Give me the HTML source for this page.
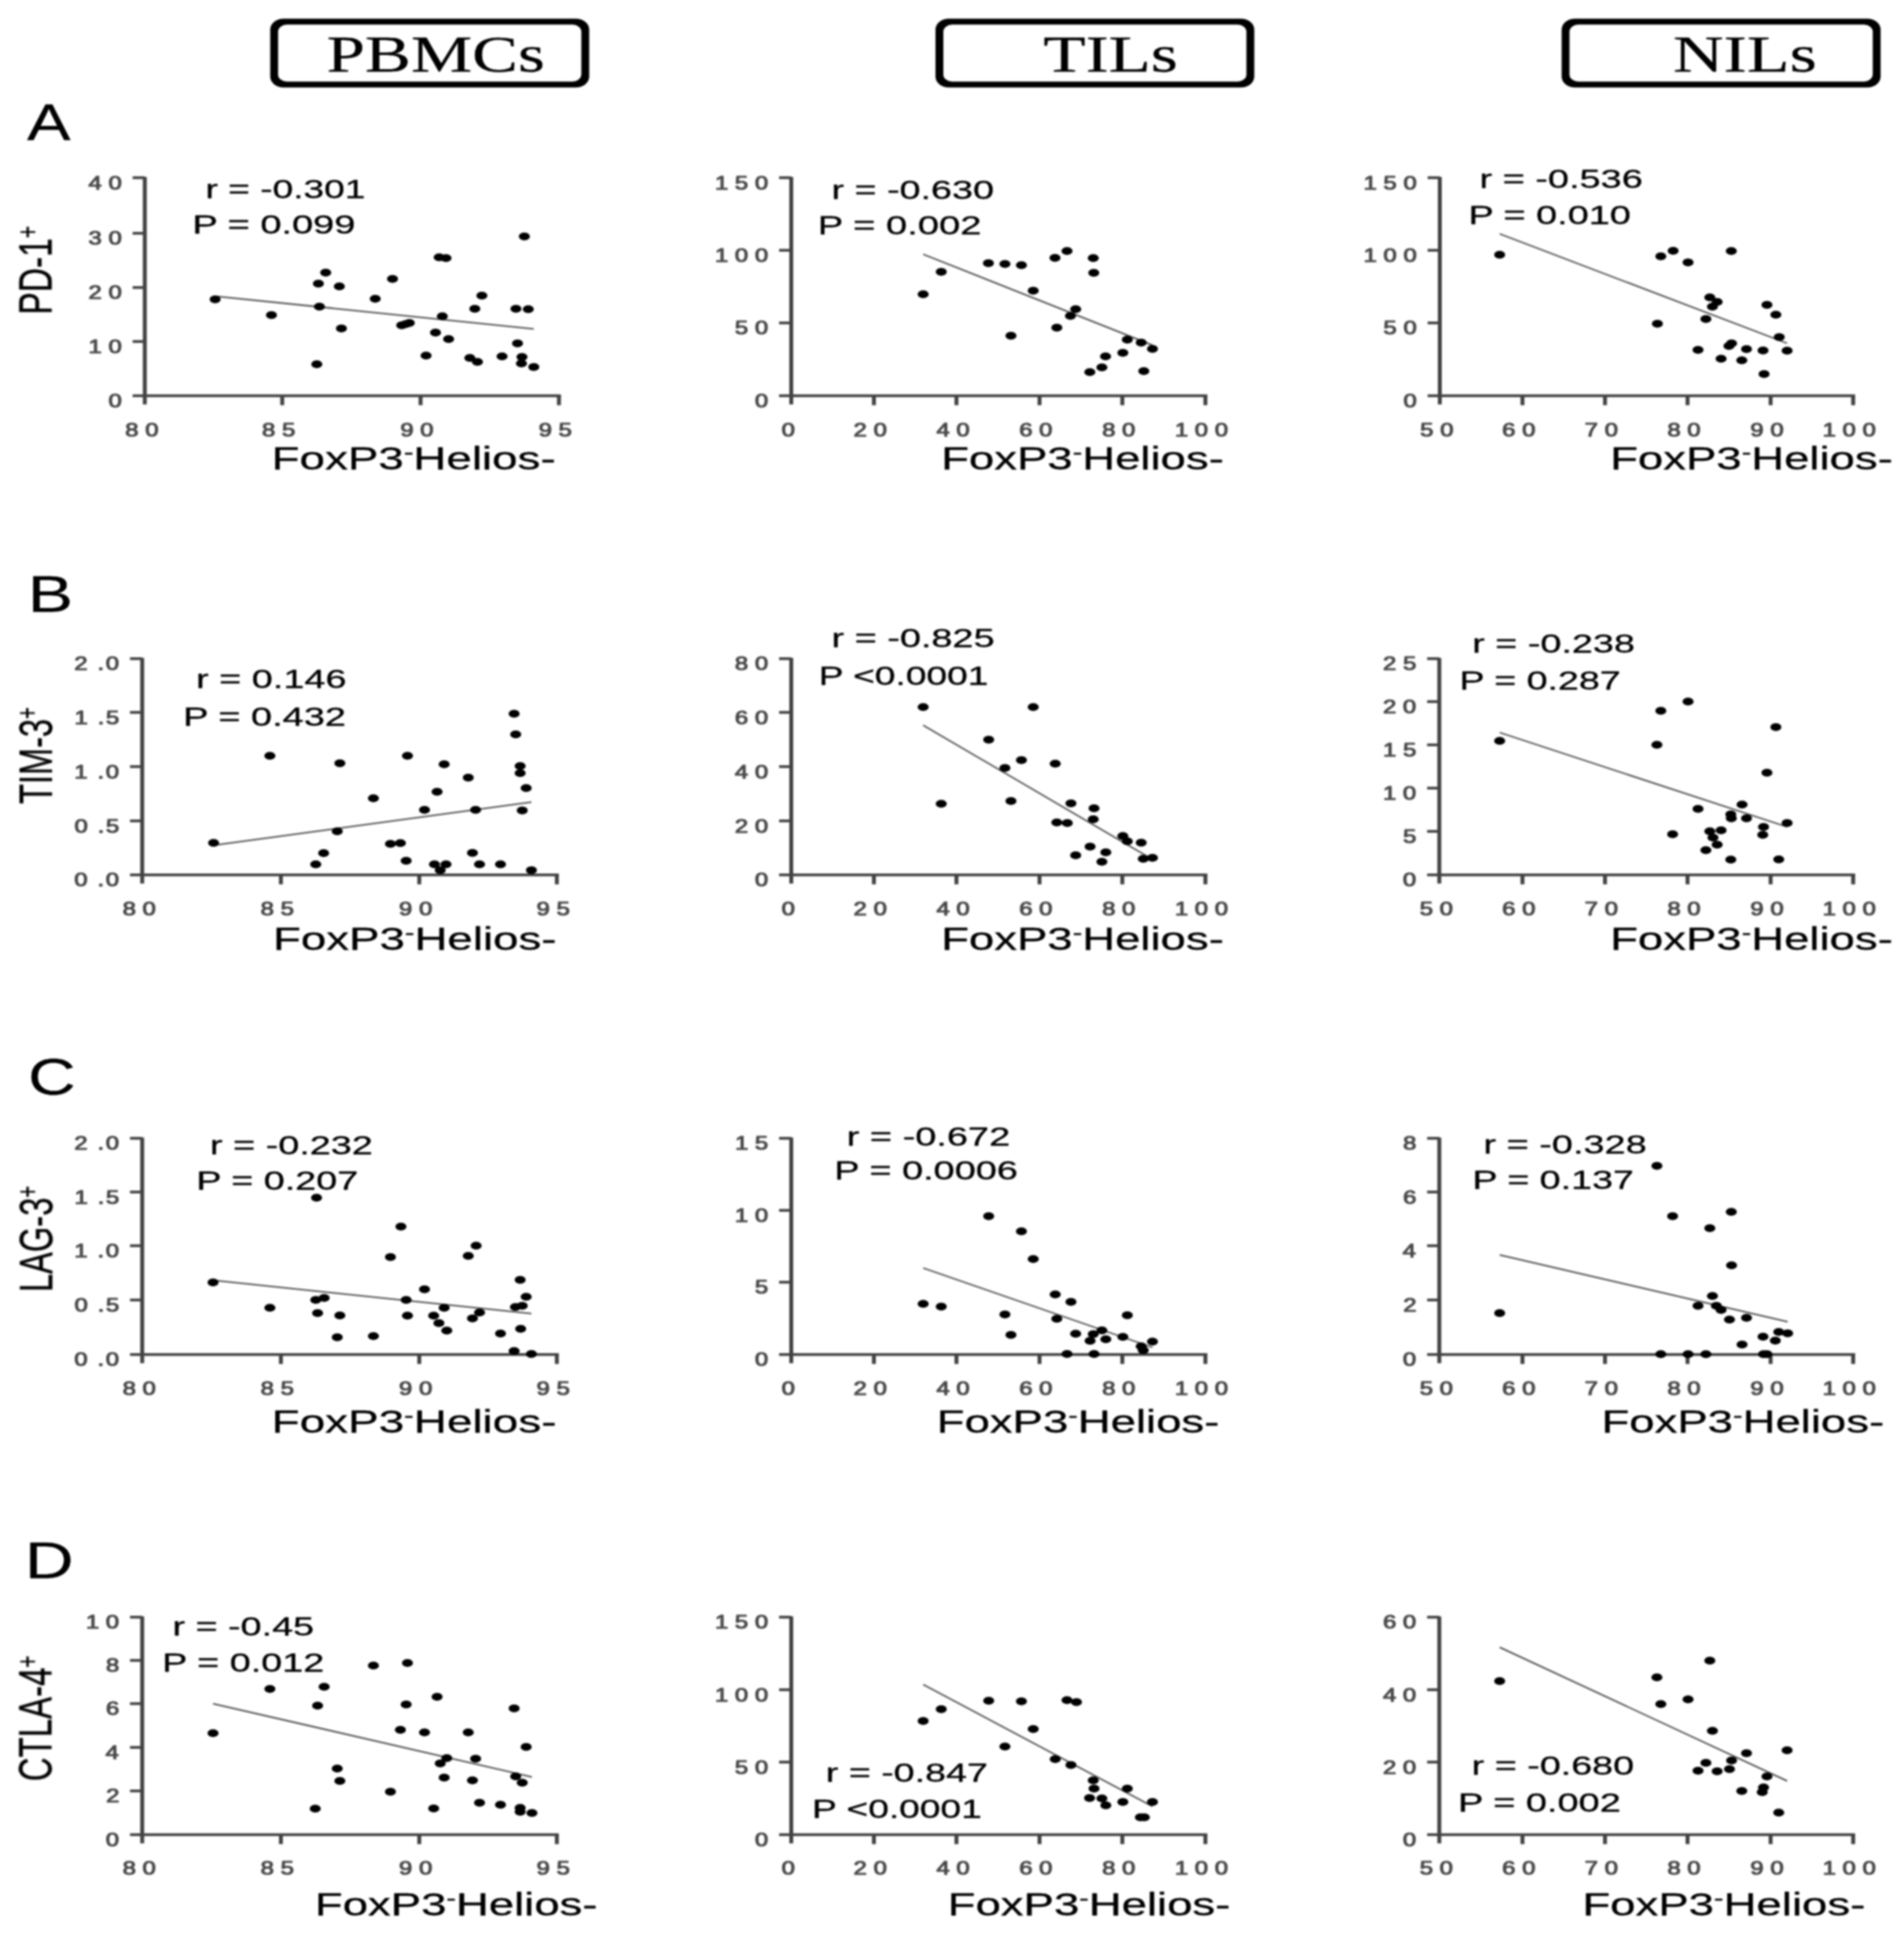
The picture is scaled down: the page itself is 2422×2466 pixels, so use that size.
<!DOCTYPE html>
<html lang="en"><head><meta charset="utf-8"><title>Figure</title>
<style>
html,body{margin:0;padding:0;background:#fff;}
body{width:2422px;height:2466px;overflow:hidden;}
svg{display:block;}
svg .all{filter:blur(1.2px);}
text{fill:#000;white-space:pre;stroke:#000;stroke-width:0.35px;stroke-linejoin:round;}
.s,.t{font-family:"Liberation Sans",Arial,Helvetica,sans-serif;}
.t{fill:#4a4a4a;stroke:#4a4a4a;stroke-width:1.15px;}
.h{stroke-width:0.3px;}
.h{font-family:"Liberation Serif","Times New Roman",serif;}
ellipse{fill:#000;}
</style></head><body>
<svg width="2422" height="2466" viewBox="0 0 2422 2466">
<g class="all">
<rect x="343.75" y="23.75" width="405.75" height="87.5" rx="17" ry="14" fill="#000"/>
<rect x="353.75" y="31.25" width="385.75" height="72.5" rx="11" ry="9" fill="#fff"/>
<text class="h" transform="translate(415.62,90.5) scale(1.3352,1)" font-size="65.6">PBMCs</text>
<rect x="1190" y="23.75" width="405.5" height="87.5" rx="17" ry="14" fill="#000"/>
<rect x="1200" y="31.25" width="385.5" height="72.5" rx="11" ry="9" fill="#fff"/>
<text class="h" transform="translate(1327.21,90.5) scale(1.3409,1)" font-size="65.6">TILs</text>
<rect x="1986.5" y="23.75" width="405.75" height="87.5" rx="17" ry="14" fill="#000"/>
<rect x="1996.5" y="31.25" width="385.75" height="72.5" rx="11" ry="9" fill="#fff"/>
<text class="h" transform="translate(2128.33,90.5) scale(1.3557,1)" font-size="65.6">NILs</text>
<text class="s" transform="translate(34.49,178.3) scale(1.2648,1)" font-size="65.4">A</text>
<text class="s" transform="translate(35.17,778.3) scale(1.3209,1)" font-size="65.4">B</text>
<text class="s" transform="translate(35.81,1392) scale(1.2813,1)" font-size="65.4">C</text>
<text class="s" transform="translate(31.74,2007.1) scale(1.3084,1)" font-size="65.4">D</text>
<text class="s" transform="translate(65.8,396.6) rotate(-90) scale(1.0282,1.43) translate(-3.42,0)" font-size="41.5">PD-1<tspan font-size="26" dy="-13">+</tspan></text>
<text class="s" transform="translate(65.8,1021.5) rotate(-90) scale(0.9973,1.43) translate(-0.93,0)" font-size="41.5">TIM-3<tspan font-size="26" dy="-13">+</tspan></text>
<text class="s" transform="translate(66.2,1639.8) rotate(-90) scale(1.0005,1.43) translate(-3.42,0)" font-size="41.5">LAG-3<tspan font-size="26" dy="-13">+</tspan></text>
<text class="s" transform="translate(65.6,2263.3) rotate(-90) scale(1.0115,1.43) translate(-2.08,0)" font-size="41.5">CTLA-4<tspan font-size="26" dy="-13">+</tspan></text>
<g id="A1">
<rect x="181.7" y="225.05" width="5" height="289.28" fill="#424242"/>
<rect x="168.7" y="501.58" width="544.8" height="3.5" fill="#424242"/>
<rect x="168.7" y="224.25" width="15.5" height="3.5" fill="#424242"/>
<text class="t" transform="translate(112.48,240.6) scale(1.2700,1)" font-size="24">4 0</text>
<rect x="168.7" y="294.92" width="15.5" height="3.5" fill="#424242"/>
<text class="t" transform="translate(112.48,311.27) scale(1.2700,1)" font-size="24">3 0</text>
<rect x="168.7" y="363.92" width="15.5" height="3.5" fill="#424242"/>
<text class="t" transform="translate(112.48,380.27) scale(1.2700,1)" font-size="24">2 0</text>
<rect x="168.7" y="432.58" width="15.5" height="3.5" fill="#424242"/>
<text class="t" transform="translate(112.48,448.93) scale(1.2700,1)" font-size="24">1 0</text>
<text class="t" transform="translate(137.93,517.93) scale(1.2700,1)" font-size="24">0</text>
<text class="t" transform="translate(159.24,554.53) scale(1.2700,1)" font-size="24">8 0</text>
<rect x="356.5" y="503.33" width="5" height="12" fill="#424242"/>
<text class="t" transform="translate(333.28,554.53) scale(1.2700,1)" font-size="24">8 5</text>
<rect x="532.5" y="503.33" width="5" height="12" fill="#424242"/>
<text class="t" transform="translate(509.16,554.53) scale(1.2700,1)" font-size="24">9 0</text>
<rect x="708.5" y="503.33" width="5" height="12" fill="#424242"/>
<text class="t" transform="translate(685.2,554.53) scale(1.2700,1)" font-size="24">9 5</text>
<line x1="273.67" y1="376.67" x2="679" y2="418.33" stroke="#555" stroke-width="2"/>
<ellipse cx="273.67" cy="380.67" rx="7.0" ry="5.0"/>
<ellipse cx="345.33" cy="400.67" rx="7.0" ry="5.0"/>
<ellipse cx="405" cy="360.67" rx="7.0" ry="5.0"/>
<ellipse cx="414.33" cy="346.67" rx="7.0" ry="5.0"/>
<ellipse cx="406.33" cy="390" rx="7.0" ry="5.0"/>
<ellipse cx="431.67" cy="364.33" rx="7.0" ry="5.0"/>
<ellipse cx="434.33" cy="417.67" rx="7.0" ry="5.0"/>
<ellipse cx="403" cy="463.33" rx="7.0" ry="5.0"/>
<ellipse cx="477.33" cy="380" rx="7.0" ry="5.0"/>
<ellipse cx="499.33" cy="354.67" rx="7.0" ry="5.0"/>
<ellipse cx="511" cy="413.67" rx="7.0" ry="5.0"/>
<ellipse cx="516" cy="412.33" rx="7.0" ry="5.0"/>
<ellipse cx="520.67" cy="410.67" rx="7.0" ry="5.0"/>
<ellipse cx="542" cy="452.33" rx="7.0" ry="5.0"/>
<ellipse cx="554" cy="423" rx="7.0" ry="5.0"/>
<ellipse cx="558.67" cy="327.33" rx="7.0" ry="5.0"/>
<ellipse cx="567.33" cy="328.33" rx="7.0" ry="5.0"/>
<ellipse cx="562.67" cy="402.33" rx="7.0" ry="5.0"/>
<ellipse cx="570.67" cy="431.33" rx="7.0" ry="5.0"/>
<ellipse cx="597.67" cy="455.33" rx="7.0" ry="5.0"/>
<ellipse cx="607.33" cy="460.33" rx="7.0" ry="5.0"/>
<ellipse cx="604" cy="392.67" rx="7.0" ry="5.0"/>
<ellipse cx="613" cy="376" rx="7.0" ry="5.0"/>
<ellipse cx="638.67" cy="453.33" rx="7.0" ry="5.0"/>
<ellipse cx="656.33" cy="392.67" rx="7.0" ry="5.0"/>
<ellipse cx="672" cy="393.33" rx="7.0" ry="5.0"/>
<ellipse cx="658.33" cy="436.67" rx="7.0" ry="5.0"/>
<ellipse cx="667" cy="300.67" rx="7.0" ry="5.0"/>
<ellipse cx="664" cy="454" rx="7.0" ry="5.0"/>
<ellipse cx="663.33" cy="462.33" rx="7.0" ry="5.0"/>
<ellipse cx="679" cy="466.67" rx="7.0" ry="5.0"/>
<text class="s" transform="translate(261.48,251.67) scale(1.4309,1)" font-size="33">r = -0.301</text>
<text class="s" transform="translate(244.68,296.67) scale(1.4655,1)" font-size="33">P = 0.099</text>
<text class="s" transform="translate(345.53,596.67) scale(1.4085,1)" font-size="41.3">FoxP3<tspan font-size="26" dy="-13">-</tspan><tspan dy="13">Helios-</tspan></text>
</g>
<g id="A2">
<rect x="1004.03" y="225.05" width="5" height="289.28" fill="#424242"/>
<rect x="991.03" y="501.58" width="544.8" height="3.5" fill="#424242"/>
<rect x="991.03" y="224.25" width="15.5" height="3.5" fill="#424242"/>
<text class="t" transform="translate(909.43,240.6) scale(1.2700,1)" font-size="24">1 5 0</text>
<rect x="991.03" y="316.58" width="15.5" height="3.5" fill="#424242"/>
<text class="t" transform="translate(909.43,332.93) scale(1.2700,1)" font-size="24">1 0 0</text>
<rect x="991.03" y="408.92" width="15.5" height="3.5" fill="#424242"/>
<text class="t" transform="translate(934.81,425.27) scale(1.2700,1)" font-size="24">5 0</text>
<text class="t" transform="translate(960.26,517.93) scale(1.2700,1)" font-size="24">0</text>
<text class="t" transform="translate(994.34,554.53) scale(1.2700,1)" font-size="24">0</text>
<rect x="1109.17" y="503.33" width="5" height="12" fill="#424242"/>
<text class="t" transform="translate(1085.79,554.53) scale(1.2700,1)" font-size="24">2 0</text>
<rect x="1214.17" y="503.33" width="5" height="12" fill="#424242"/>
<text class="t" transform="translate(1191.21,554.53) scale(1.2700,1)" font-size="24">4 0</text>
<rect x="1319.83" y="503.33" width="5" height="12" fill="#424242"/>
<text class="t" transform="translate(1296.46,554.53) scale(1.2700,1)" font-size="24">6 0</text>
<rect x="1425.17" y="503.33" width="5" height="12" fill="#424242"/>
<text class="t" transform="translate(1401.91,554.53) scale(1.2700,1)" font-size="24">8 0</text>
<rect x="1530.83" y="503.33" width="5" height="12" fill="#424242"/>
<text class="t" transform="translate(1494.39,554.53) scale(1.2700,1)" font-size="24">1 0 0</text>
<line x1="1174.33" y1="323.33" x2="1466" y2="439" stroke="#555" stroke-width="2"/>
<ellipse cx="1174.33" cy="374.33" rx="7.0" ry="5.0"/>
<ellipse cx="1197.33" cy="345.67" rx="7.0" ry="5.0"/>
<ellipse cx="1257.33" cy="334.67" rx="7.0" ry="5.0"/>
<ellipse cx="1278.33" cy="335.67" rx="7.0" ry="5.0"/>
<ellipse cx="1299.33" cy="337.33" rx="7.0" ry="5.0"/>
<ellipse cx="1286" cy="427" rx="7.0" ry="5.0"/>
<ellipse cx="1314.33" cy="369.67" rx="7.0" ry="5.0"/>
<ellipse cx="1342" cy="328" rx="7.0" ry="5.0"/>
<ellipse cx="1357.33" cy="319.33" rx="7.0" ry="5.0"/>
<ellipse cx="1344.33" cy="416.67" rx="7.0" ry="5.0"/>
<ellipse cx="1361.67" cy="401.67" rx="7.0" ry="5.0"/>
<ellipse cx="1368.33" cy="393.33" rx="7.0" ry="5.0"/>
<ellipse cx="1390.67" cy="328.33" rx="7.0" ry="5.0"/>
<ellipse cx="1391.33" cy="347" rx="7.0" ry="5.0"/>
<ellipse cx="1386.33" cy="473.33" rx="7.0" ry="5.0"/>
<ellipse cx="1401.67" cy="467.33" rx="7.0" ry="5.0"/>
<ellipse cx="1406.33" cy="453.33" rx="7.0" ry="5.0"/>
<ellipse cx="1428.33" cy="448.67" rx="7.0" ry="5.0"/>
<ellipse cx="1434" cy="432" rx="7.0" ry="5.0"/>
<ellipse cx="1451.67" cy="435.67" rx="7.0" ry="5.0"/>
<ellipse cx="1466" cy="443.67" rx="7.0" ry="5.0"/>
<ellipse cx="1455" cy="472" rx="7.0" ry="5.0"/>
<text class="s" transform="translate(1057.76,253.33) scale(1.4539,1)" font-size="33">r = -0.630</text>
<text class="s" transform="translate(1040.33,298.33) scale(1.4697,1)" font-size="33">P = 0.002</text>
<text class="s" transform="translate(1197.22,596.67) scale(1.4019,1)" font-size="41.3">FoxP3<tspan font-size="26" dy="-13">-</tspan><tspan dy="13">Helios-</tspan></text>
</g>
<g id="A3">
<rect x="1829.03" y="225.05" width="5" height="289.28" fill="#424242"/>
<rect x="1816.03" y="501.58" width="543.8" height="3.5" fill="#424242"/>
<rect x="1816.03" y="224.25" width="15.5" height="3.5" fill="#424242"/>
<text class="t" transform="translate(1734.43,240.6) scale(1.2700,1)" font-size="24">1 5 0</text>
<rect x="1816.03" y="316.58" width="15.5" height="3.5" fill="#424242"/>
<text class="t" transform="translate(1734.43,332.93) scale(1.2700,1)" font-size="24">1 0 0</text>
<rect x="1816.03" y="408.92" width="15.5" height="3.5" fill="#424242"/>
<text class="t" transform="translate(1759.81,425.27) scale(1.2700,1)" font-size="24">5 0</text>
<text class="t" transform="translate(1785.26,517.93) scale(1.2700,1)" font-size="24">0</text>
<text class="t" transform="translate(1806.61,554.53) scale(1.2700,1)" font-size="24">5 0</text>
<rect x="1934.17" y="503.33" width="5" height="12" fill="#424242"/>
<text class="t" transform="translate(1910.79,554.53) scale(1.2700,1)" font-size="24">6 0</text>
<rect x="2039.17" y="503.33" width="5" height="12" fill="#424242"/>
<text class="t" transform="translate(2015.75,554.53) scale(1.2700,1)" font-size="24">7 0</text>
<rect x="2144.17" y="503.33" width="5" height="12" fill="#424242"/>
<text class="t" transform="translate(2120.91,554.53) scale(1.2700,1)" font-size="24">8 0</text>
<rect x="2249.83" y="503.33" width="5" height="12" fill="#424242"/>
<text class="t" transform="translate(2226.5,554.53) scale(1.2700,1)" font-size="24">9 0</text>
<rect x="2354.83" y="503.33" width="5" height="12" fill="#424242"/>
<text class="t" transform="translate(2318.39,554.53) scale(1.2700,1)" font-size="24">1 0 0</text>
<line x1="1907.67" y1="297.33" x2="2273.33" y2="436.67" stroke="#555" stroke-width="2"/>
<ellipse cx="1907.67" cy="324" rx="7.0" ry="5.0"/>
<ellipse cx="2112.67" cy="326" rx="7.0" ry="5.0"/>
<ellipse cx="2128.33" cy="319" rx="7.0" ry="5.0"/>
<ellipse cx="2147.33" cy="333.67" rx="7.0" ry="5.0"/>
<ellipse cx="2202.33" cy="319.33" rx="7.0" ry="5.0"/>
<ellipse cx="2108.33" cy="411.67" rx="7.0" ry="5.0"/>
<ellipse cx="2175" cy="378.33" rx="7.0" ry="5.0"/>
<ellipse cx="2184.33" cy="384" rx="7.0" ry="5.0"/>
<ellipse cx="2178.33" cy="390" rx="7.0" ry="5.0"/>
<ellipse cx="2170" cy="405.67" rx="7.0" ry="5.0"/>
<ellipse cx="2160" cy="445" rx="7.0" ry="5.0"/>
<ellipse cx="2189.33" cy="456.33" rx="7.0" ry="5.0"/>
<ellipse cx="2202.67" cy="436.67" rx="7.0" ry="5.0"/>
<ellipse cx="2199.33" cy="440" rx="7.0" ry="5.0"/>
<ellipse cx="2221.67" cy="444" rx="7.0" ry="5.0"/>
<ellipse cx="2215.67" cy="458.33" rx="7.0" ry="5.0"/>
<ellipse cx="2242.67" cy="445.67" rx="7.0" ry="5.0"/>
<ellipse cx="2244" cy="475.67" rx="7.0" ry="5.0"/>
<ellipse cx="2247.67" cy="387.67" rx="7.0" ry="5.0"/>
<ellipse cx="2259" cy="400.33" rx="7.0" ry="5.0"/>
<ellipse cx="2263.33" cy="428.67" rx="7.0" ry="5.0"/>
<ellipse cx="2273.33" cy="446" rx="7.0" ry="5.0"/>
<text class="s" transform="translate(1882.08,239.33) scale(1.4605,1)" font-size="33">r = -0.536</text>
<text class="s" transform="translate(1868.03,285) scale(1.4580,1)" font-size="33">P = 0.010</text>
<text class="s" transform="translate(2048.22,596.67) scale(1.4019,1)" font-size="41.3">FoxP3<tspan font-size="26" dy="-13">-</tspan><tspan dy="13">Helios-</tspan></text>
</g>
<g id="B1">
<rect x="178.37" y="836.72" width="5" height="286.95" fill="#424242"/>
<rect x="165.37" y="1110.92" width="545.47" height="3.5" fill="#424242"/>
<rect x="165.37" y="835.92" width="15.5" height="3.5" fill="#424242"/>
<text class="t" transform="translate(94.59,852.27) scale(1.2700,1)" font-size="24" letter-spacing="1.6">2 .0</text>
<rect x="165.37" y="904.25" width="15.5" height="3.5" fill="#424242"/>
<text class="t" transform="translate(94.66,920.6) scale(1.2700,1)" font-size="24" letter-spacing="1.6">1 .5</text>
<rect x="165.37" y="973.25" width="15.5" height="3.5" fill="#424242"/>
<text class="t" transform="translate(94.59,989.6) scale(1.2700,1)" font-size="24" letter-spacing="1.6">1 .0</text>
<rect x="165.37" y="1042.25" width="15.5" height="3.5" fill="#424242"/>
<text class="t" transform="translate(94.66,1058.6) scale(1.2700,1)" font-size="24" letter-spacing="1.6">0 .5</text>
<text class="t" transform="translate(94.59,1127.27) scale(1.2700,1)" font-size="24" letter-spacing="1.6">0 .0</text>
<text class="t" transform="translate(155.91,1163.53) scale(1.2700,1)" font-size="24">8 0</text>
<rect x="354.83" y="1112.67" width="5" height="12" fill="#424242"/>
<text class="t" transform="translate(331.61,1163.53) scale(1.2700,1)" font-size="24">8 5</text>
<rect x="530.83" y="1112.67" width="5" height="12" fill="#424242"/>
<text class="t" transform="translate(507.5,1163.53) scale(1.2700,1)" font-size="24">9 0</text>
<rect x="705.83" y="1112.67" width="5" height="12" fill="#424242"/>
<text class="t" transform="translate(682.54,1163.53) scale(1.2700,1)" font-size="24">9 5</text>
<line x1="271.67" y1="1075" x2="676" y2="1020" stroke="#555" stroke-width="2"/>
<ellipse cx="271.67" cy="1072" rx="7.0" ry="5.0"/>
<ellipse cx="343.33" cy="961.33" rx="7.0" ry="5.0"/>
<ellipse cx="401.67" cy="1099.33" rx="7.0" ry="5.0"/>
<ellipse cx="411.67" cy="1085" rx="7.0" ry="5.0"/>
<ellipse cx="429" cy="1057.33" rx="7.0" ry="5.0"/>
<ellipse cx="432.33" cy="970.67" rx="7.0" ry="5.0"/>
<ellipse cx="475" cy="1015.33" rx="7.0" ry="5.0"/>
<ellipse cx="496.67" cy="1073.33" rx="7.0" ry="5.0"/>
<ellipse cx="509.33" cy="1072.33" rx="7.0" ry="5.0"/>
<ellipse cx="518.33" cy="961.33" rx="7.0" ry="5.0"/>
<ellipse cx="516.67" cy="1094.67" rx="7.0" ry="5.0"/>
<ellipse cx="540" cy="1030" rx="7.0" ry="5.0"/>
<ellipse cx="556" cy="1007" rx="7.0" ry="5.0"/>
<ellipse cx="552.67" cy="1099.33" rx="7.0" ry="5.0"/>
<ellipse cx="560" cy="1106.67" rx="7.0" ry="5.0"/>
<ellipse cx="567.33" cy="1099.33" rx="7.0" ry="5.0"/>
<ellipse cx="565" cy="972" rx="7.0" ry="5.0"/>
<ellipse cx="595.67" cy="989" rx="7.0" ry="5.0"/>
<ellipse cx="601" cy="1084.67" rx="7.0" ry="5.0"/>
<ellipse cx="605" cy="1030" rx="7.0" ry="5.0"/>
<ellipse cx="610" cy="1099.33" rx="7.0" ry="5.0"/>
<ellipse cx="636.67" cy="1099.33" rx="7.0" ry="5.0"/>
<ellipse cx="654" cy="907.67" rx="7.0" ry="5.0"/>
<ellipse cx="656" cy="934" rx="7.0" ry="5.0"/>
<ellipse cx="661.67" cy="974.33" rx="7.0" ry="5.0"/>
<ellipse cx="661.67" cy="983.33" rx="7.0" ry="5.0"/>
<ellipse cx="669.33" cy="1002.33" rx="7.0" ry="5.0"/>
<ellipse cx="664.33" cy="1030.67" rx="7.0" ry="5.0"/>
<ellipse cx="676" cy="1106.67" rx="7.0" ry="5.0"/>
<text class="s" transform="translate(249.42,875) scale(1.4580,1)" font-size="33">r = 0.146</text>
<text class="s" transform="translate(233.02,922.67) scale(1.4624,1)" font-size="33">P = 0.432</text>
<text class="s" transform="translate(347.21,1208.33) scale(1.4059,1)" font-size="41.3">FoxP3<tspan font-size="26" dy="-13">-</tspan><tspan dy="13">Helios-</tspan></text>
</g>
<g id="B2">
<rect x="1004.03" y="836.72" width="5" height="286.95" fill="#424242"/>
<rect x="991.03" y="1110.92" width="544.8" height="3.5" fill="#424242"/>
<rect x="991.03" y="835.92" width="15.5" height="3.5" fill="#424242"/>
<text class="t" transform="translate(934.81,852.27) scale(1.2700,1)" font-size="24">8 0</text>
<rect x="991.03" y="904.25" width="15.5" height="3.5" fill="#424242"/>
<text class="t" transform="translate(934.81,920.6) scale(1.2700,1)" font-size="24">6 0</text>
<rect x="991.03" y="973.25" width="15.5" height="3.5" fill="#424242"/>
<text class="t" transform="translate(934.81,989.6) scale(1.2700,1)" font-size="24">4 0</text>
<rect x="991.03" y="1042.25" width="15.5" height="3.5" fill="#424242"/>
<text class="t" transform="translate(934.81,1058.6) scale(1.2700,1)" font-size="24">2 0</text>
<text class="t" transform="translate(960.26,1127.27) scale(1.2700,1)" font-size="24">0</text>
<text class="t" transform="translate(994.34,1163.53) scale(1.2700,1)" font-size="24">0</text>
<rect x="1109.17" y="1112.67" width="5" height="12" fill="#424242"/>
<text class="t" transform="translate(1085.79,1163.53) scale(1.2700,1)" font-size="24">2 0</text>
<rect x="1214.17" y="1112.67" width="5" height="12" fill="#424242"/>
<text class="t" transform="translate(1191.21,1163.53) scale(1.2700,1)" font-size="24">4 0</text>
<rect x="1319.83" y="1112.67" width="5" height="12" fill="#424242"/>
<text class="t" transform="translate(1296.46,1163.53) scale(1.2700,1)" font-size="24">6 0</text>
<rect x="1425.17" y="1112.67" width="5" height="12" fill="#424242"/>
<text class="t" transform="translate(1401.91,1163.53) scale(1.2700,1)" font-size="24">8 0</text>
<rect x="1530.83" y="1112.67" width="5" height="12" fill="#424242"/>
<text class="t" transform="translate(1494.39,1163.53) scale(1.2700,1)" font-size="24">1 0 0</text>
<line x1="1174.33" y1="922.33" x2="1466" y2="1093" stroke="#555" stroke-width="2"/>
<ellipse cx="1174.33" cy="899.33" rx="7.0" ry="5.0"/>
<ellipse cx="1197.33" cy="1022.33" rx="7.0" ry="5.0"/>
<ellipse cx="1257.67" cy="940.67" rx="7.0" ry="5.0"/>
<ellipse cx="1278.33" cy="976.67" rx="7.0" ry="5.0"/>
<ellipse cx="1286" cy="1018.67" rx="7.0" ry="5.0"/>
<ellipse cx="1299.33" cy="966.67" rx="7.0" ry="5.0"/>
<ellipse cx="1314.33" cy="899.33" rx="7.0" ry="5.0"/>
<ellipse cx="1342.33" cy="971.33" rx="7.0" ry="5.0"/>
<ellipse cx="1344.33" cy="1046" rx="7.0" ry="5.0"/>
<ellipse cx="1357.67" cy="1046.67" rx="7.0" ry="5.0"/>
<ellipse cx="1362.33" cy="1021.67" rx="7.0" ry="5.0"/>
<ellipse cx="1368.33" cy="1087.67" rx="7.0" ry="5.0"/>
<ellipse cx="1386.67" cy="1076.67" rx="7.0" ry="5.0"/>
<ellipse cx="1390.67" cy="1042" rx="7.0" ry="5.0"/>
<ellipse cx="1391.67" cy="1028" rx="7.0" ry="5.0"/>
<ellipse cx="1401.67" cy="1096" rx="7.0" ry="5.0"/>
<ellipse cx="1406.67" cy="1084" rx="7.0" ry="5.0"/>
<ellipse cx="1428.33" cy="1063.33" rx="7.0" ry="5.0"/>
<ellipse cx="1434" cy="1070" rx="7.0" ry="5.0"/>
<ellipse cx="1451.67" cy="1071.67" rx="7.0" ry="5.0"/>
<ellipse cx="1454.33" cy="1092.33" rx="7.0" ry="5.0"/>
<ellipse cx="1466" cy="1091" rx="7.0" ry="5.0"/>
<text class="s" transform="translate(1057.75,823.33) scale(1.4596,1)" font-size="33">r = -0.825</text>
<text class="s" transform="translate(1041.44,871) scale(1.4316,1)" font-size="33">P &lt;0.0001</text>
<text class="s" transform="translate(1197.22,1208.33) scale(1.4019,1)" font-size="41.3">FoxP3<tspan font-size="26" dy="-13">-</tspan><tspan dy="13">Helios-</tspan></text>
</g>
<g id="B3">
<rect x="1828.37" y="836.72" width="5" height="286.95" fill="#424242"/>
<rect x="1815.37" y="1110.92" width="544.47" height="3.5" fill="#424242"/>
<rect x="1815.37" y="835.92" width="15.5" height="3.5" fill="#424242"/>
<text class="t" transform="translate(1759.22,852.27) scale(1.2700,1)" font-size="24">2 5</text>
<rect x="1815.37" y="890.58" width="15.5" height="3.5" fill="#424242"/>
<text class="t" transform="translate(1759.14,906.93) scale(1.2700,1)" font-size="24">2 0</text>
<rect x="1815.37" y="945.58" width="15.5" height="3.5" fill="#424242"/>
<text class="t" transform="translate(1759.22,961.93) scale(1.2700,1)" font-size="24">1 5</text>
<rect x="1815.37" y="1000.58" width="15.5" height="3.5" fill="#424242"/>
<text class="t" transform="translate(1759.14,1016.93) scale(1.2700,1)" font-size="24">1 0</text>
<rect x="1815.37" y="1055.58" width="15.5" height="3.5" fill="#424242"/>
<text class="t" transform="translate(1784.67,1071.93) scale(1.2700,1)" font-size="24">5</text>
<text class="t" transform="translate(1784.59,1127.27) scale(1.2700,1)" font-size="24">0</text>
<text class="t" transform="translate(1805.94,1163.53) scale(1.2700,1)" font-size="24">5 0</text>
<rect x="1934.17" y="1112.67" width="5" height="12" fill="#424242"/>
<text class="t" transform="translate(1910.79,1163.53) scale(1.2700,1)" font-size="24">6 0</text>
<rect x="2039.17" y="1112.67" width="5" height="12" fill="#424242"/>
<text class="t" transform="translate(2015.75,1163.53) scale(1.2700,1)" font-size="24">7 0</text>
<rect x="2144.17" y="1112.67" width="5" height="12" fill="#424242"/>
<text class="t" transform="translate(2120.91,1163.53) scale(1.2700,1)" font-size="24">8 0</text>
<rect x="2249.83" y="1112.67" width="5" height="12" fill="#424242"/>
<text class="t" transform="translate(2226.5,1163.53) scale(1.2700,1)" font-size="24">9 0</text>
<rect x="2354.83" y="1112.67" width="5" height="12" fill="#424242"/>
<text class="t" transform="translate(2318.39,1163.53) scale(1.2700,1)" font-size="24">1 0 0</text>
<line x1="1907.67" y1="931.67" x2="2273.33" y2="1051.67" stroke="#555" stroke-width="2"/>
<ellipse cx="1907.67" cy="942.33" rx="7.0" ry="5.0"/>
<ellipse cx="2107.67" cy="947.33" rx="7.0" ry="5.0"/>
<ellipse cx="2112.67" cy="904" rx="7.0" ry="5.0"/>
<ellipse cx="2147.33" cy="892.33" rx="7.0" ry="5.0"/>
<ellipse cx="2127.67" cy="1061" rx="7.0" ry="5.0"/>
<ellipse cx="2160" cy="1028.67" rx="7.0" ry="5.0"/>
<ellipse cx="2170" cy="1081.33" rx="7.0" ry="5.0"/>
<ellipse cx="2175" cy="1057.33" rx="7.0" ry="5.0"/>
<ellipse cx="2179" cy="1065.33" rx="7.0" ry="5.0"/>
<ellipse cx="2184.33" cy="1074.33" rx="7.0" ry="5.0"/>
<ellipse cx="2189.33" cy="1056" rx="7.0" ry="5.0"/>
<ellipse cx="2201.67" cy="1035.67" rx="7.0" ry="5.0"/>
<ellipse cx="2202.33" cy="1040.67" rx="7.0" ry="5.0"/>
<ellipse cx="2201.67" cy="1093.33" rx="7.0" ry="5.0"/>
<ellipse cx="2216" cy="1023.33" rx="7.0" ry="5.0"/>
<ellipse cx="2221.67" cy="1040.67" rx="7.0" ry="5.0"/>
<ellipse cx="2243.33" cy="1051.67" rx="7.0" ry="5.0"/>
<ellipse cx="2242.33" cy="1061.67" rx="7.0" ry="5.0"/>
<ellipse cx="2247.67" cy="982.67" rx="7.0" ry="5.0"/>
<ellipse cx="2259" cy="924.67" rx="7.0" ry="5.0"/>
<ellipse cx="2262.67" cy="1093" rx="7.0" ry="5.0"/>
<ellipse cx="2273.33" cy="1046.67" rx="7.0" ry="5.0"/>
<text class="s" transform="translate(1872.76,830) scale(1.4557,1)" font-size="33">r = -0.238</text>
<text class="s" transform="translate(1856.39,876.67) scale(1.4502,1)" font-size="33">P = 0.287</text>
<text class="s" transform="translate(2048.22,1208.33) scale(1.4019,1)" font-size="41.3">FoxP3<tspan font-size="26" dy="-13">-</tspan><tspan dy="13">Helios-</tspan></text>
</g>
<g id="C1">
<rect x="178.37" y="1446.72" width="5" height="286.95" fill="#424242"/>
<rect x="165.37" y="1720.92" width="545.47" height="3.5" fill="#424242"/>
<rect x="165.37" y="1445.92" width="15.5" height="3.5" fill="#424242"/>
<text class="t" transform="translate(94.59,1462.27) scale(1.2700,1)" font-size="24" letter-spacing="1.6">2 .0</text>
<rect x="165.37" y="1514.25" width="15.5" height="3.5" fill="#424242"/>
<text class="t" transform="translate(94.66,1530.6) scale(1.2700,1)" font-size="24" letter-spacing="1.6">1 .5</text>
<rect x="165.37" y="1582.58" width="15.5" height="3.5" fill="#424242"/>
<text class="t" transform="translate(94.59,1598.93) scale(1.2700,1)" font-size="24" letter-spacing="1.6">1 .0</text>
<rect x="165.37" y="1651.58" width="15.5" height="3.5" fill="#424242"/>
<text class="t" transform="translate(94.66,1667.93) scale(1.2700,1)" font-size="24" letter-spacing="1.6">0 .5</text>
<text class="t" transform="translate(94.59,1737.27) scale(1.2700,1)" font-size="24" letter-spacing="1.6">0 .0</text>
<text class="t" transform="translate(155.91,1773.53) scale(1.2700,1)" font-size="24">8 0</text>
<rect x="354.83" y="1722.67" width="5" height="12" fill="#424242"/>
<text class="t" transform="translate(331.61,1773.53) scale(1.2700,1)" font-size="24">8 5</text>
<rect x="530.83" y="1722.67" width="5" height="12" fill="#424242"/>
<text class="t" transform="translate(507.5,1773.53) scale(1.2700,1)" font-size="24">9 0</text>
<rect x="705.83" y="1722.67" width="5" height="12" fill="#424242"/>
<text class="t" transform="translate(682.54,1773.53) scale(1.2700,1)" font-size="24">9 5</text>
<line x1="271" y1="1628.33" x2="676" y2="1670.67" stroke="#555" stroke-width="2"/>
<ellipse cx="271" cy="1631" rx="7.0" ry="5.0"/>
<ellipse cx="343.33" cy="1663.33" rx="7.0" ry="5.0"/>
<ellipse cx="402.67" cy="1523.33" rx="7.0" ry="5.0"/>
<ellipse cx="401.67" cy="1653.33" rx="7.0" ry="5.0"/>
<ellipse cx="412.33" cy="1650.67" rx="7.0" ry="5.0"/>
<ellipse cx="404" cy="1670" rx="7.0" ry="5.0"/>
<ellipse cx="432.33" cy="1673" rx="7.0" ry="5.0"/>
<ellipse cx="429" cy="1700.67" rx="7.0" ry="5.0"/>
<ellipse cx="475" cy="1699.33" rx="7.0" ry="5.0"/>
<ellipse cx="496.67" cy="1598.67" rx="7.0" ry="5.0"/>
<ellipse cx="510" cy="1560" rx="7.0" ry="5.0"/>
<ellipse cx="516.67" cy="1653.33" rx="7.0" ry="5.0"/>
<ellipse cx="518.33" cy="1673.33" rx="7.0" ry="5.0"/>
<ellipse cx="540" cy="1639.67" rx="7.0" ry="5.0"/>
<ellipse cx="551.67" cy="1673.33" rx="7.0" ry="5.0"/>
<ellipse cx="558.33" cy="1682.67" rx="7.0" ry="5.0"/>
<ellipse cx="565" cy="1663.33" rx="7.0" ry="5.0"/>
<ellipse cx="568.33" cy="1692.33" rx="7.0" ry="5.0"/>
<ellipse cx="595.67" cy="1597.33" rx="7.0" ry="5.0"/>
<ellipse cx="605.67" cy="1584.33" rx="7.0" ry="5.0"/>
<ellipse cx="601" cy="1676.67" rx="7.0" ry="5.0"/>
<ellipse cx="610" cy="1669.33" rx="7.0" ry="5.0"/>
<ellipse cx="636.67" cy="1696" rx="7.0" ry="5.0"/>
<ellipse cx="661.67" cy="1627.67" rx="7.0" ry="5.0"/>
<ellipse cx="669.33" cy="1649.33" rx="7.0" ry="5.0"/>
<ellipse cx="655.67" cy="1662.33" rx="7.0" ry="5.0"/>
<ellipse cx="664.33" cy="1660.67" rx="7.0" ry="5.0"/>
<ellipse cx="662.33" cy="1690" rx="7.0" ry="5.0"/>
<ellipse cx="654" cy="1718.33" rx="7.0" ry="5.0"/>
<ellipse cx="676" cy="1722" rx="7.0" ry="5.0"/>
<text class="s" transform="translate(267.09,1467.67) scale(1.4583,1)" font-size="33">r = -0.232</text>
<text class="s" transform="translate(249.71,1513.33) scale(1.4551,1)" font-size="33">P = 0.207</text>
<text class="s" transform="translate(345.52,1821.67) scale(1.4125,1)" font-size="41.3">FoxP3<tspan font-size="26" dy="-13">-</tspan><tspan dy="13">Helios-</tspan></text>
</g>
<g id="C2">
<rect x="1004.03" y="1446.72" width="5" height="286.95" fill="#424242"/>
<rect x="991.03" y="1720.92" width="544.8" height="3.5" fill="#424242"/>
<rect x="991.03" y="1445.92" width="15.5" height="3.5" fill="#424242"/>
<text class="t" transform="translate(934.89,1462.27) scale(1.2700,1)" font-size="24">1 5</text>
<rect x="991.03" y="1537.58" width="15.5" height="3.5" fill="#424242"/>
<text class="t" transform="translate(934.81,1553.93) scale(1.2700,1)" font-size="24">1 0</text>
<rect x="991.03" y="1628.92" width="15.5" height="3.5" fill="#424242"/>
<text class="t" transform="translate(960.34,1645.27) scale(1.2700,1)" font-size="24">5</text>
<text class="t" transform="translate(960.26,1737.27) scale(1.2700,1)" font-size="24">0</text>
<text class="t" transform="translate(994.34,1773.53) scale(1.2700,1)" font-size="24">0</text>
<rect x="1109.17" y="1722.67" width="5" height="12" fill="#424242"/>
<text class="t" transform="translate(1085.79,1773.53) scale(1.2700,1)" font-size="24">2 0</text>
<rect x="1214.17" y="1722.67" width="5" height="12" fill="#424242"/>
<text class="t" transform="translate(1191.21,1773.53) scale(1.2700,1)" font-size="24">4 0</text>
<rect x="1319.83" y="1722.67" width="5" height="12" fill="#424242"/>
<text class="t" transform="translate(1296.46,1773.53) scale(1.2700,1)" font-size="24">6 0</text>
<rect x="1425.17" y="1722.67" width="5" height="12" fill="#424242"/>
<text class="t" transform="translate(1401.91,1773.53) scale(1.2700,1)" font-size="24">8 0</text>
<rect x="1530.83" y="1722.67" width="5" height="12" fill="#424242"/>
<text class="t" transform="translate(1494.39,1773.53) scale(1.2700,1)" font-size="24">1 0 0</text>
<line x1="1174.33" y1="1612.67" x2="1466" y2="1713.67" stroke="#555" stroke-width="2"/>
<ellipse cx="1174.33" cy="1658.33" rx="7.0" ry="5.0"/>
<ellipse cx="1197.33" cy="1661.67" rx="7.0" ry="5.0"/>
<ellipse cx="1257.67" cy="1546.67" rx="7.0" ry="5.0"/>
<ellipse cx="1278.33" cy="1671.67" rx="7.0" ry="5.0"/>
<ellipse cx="1286" cy="1697.67" rx="7.0" ry="5.0"/>
<ellipse cx="1299.33" cy="1566" rx="7.0" ry="5.0"/>
<ellipse cx="1314.33" cy="1601.33" rx="7.0" ry="5.0"/>
<ellipse cx="1342.33" cy="1646.33" rx="7.0" ry="5.0"/>
<ellipse cx="1344.33" cy="1677.33" rx="7.0" ry="5.0"/>
<ellipse cx="1357.33" cy="1722" rx="7.0" ry="5.0"/>
<ellipse cx="1362.33" cy="1655.67" rx="7.0" ry="5.0"/>
<ellipse cx="1368.33" cy="1696.33" rx="7.0" ry="5.0"/>
<ellipse cx="1386.67" cy="1705.33" rx="7.0" ry="5.0"/>
<ellipse cx="1390.67" cy="1696.67" rx="7.0" ry="5.0"/>
<ellipse cx="1391.67" cy="1722" rx="7.0" ry="5.0"/>
<ellipse cx="1401.67" cy="1692" rx="7.0" ry="5.0"/>
<ellipse cx="1406.67" cy="1703.33" rx="7.0" ry="5.0"/>
<ellipse cx="1428.33" cy="1700.33" rx="7.0" ry="5.0"/>
<ellipse cx="1434" cy="1672.67" rx="7.0" ry="5.0"/>
<ellipse cx="1451.67" cy="1712.33" rx="7.0" ry="5.0"/>
<ellipse cx="1454.33" cy="1717.33" rx="7.0" ry="5.0"/>
<ellipse cx="1466" cy="1706.33" rx="7.0" ry="5.0"/>
<text class="s" transform="translate(1077.07,1456.67) scale(1.4631,1)" font-size="33">r = -0.672</text>
<text class="s" transform="translate(1061.36,1500) scale(1.4593,1)" font-size="33">P = 0.0006</text>
<text class="s" transform="translate(1191.56,1821.67) scale(1.4019,1)" font-size="41.3">FoxP3<tspan font-size="26" dy="-13">-</tspan><tspan dy="13">Helios-</tspan></text>
</g>
<g id="C3">
<rect x="1828.37" y="1446.72" width="5" height="286.95" fill="#424242"/>
<rect x="1815.37" y="1720.92" width="544.47" height="3.5" fill="#424242"/>
<rect x="1815.37" y="1445.92" width="15.5" height="3.5" fill="#424242"/>
<text class="t" transform="translate(1784.75,1462.27) scale(1.2700,1)" font-size="24">8</text>
<rect x="1815.37" y="1514.25" width="15.5" height="3.5" fill="#424242"/>
<text class="t" transform="translate(1784.75,1530.6) scale(1.2700,1)" font-size="24">6</text>
<rect x="1815.37" y="1582.58" width="15.5" height="3.5" fill="#424242"/>
<text class="t" transform="translate(1784.29,1598.93) scale(1.2700,1)" font-size="24">4</text>
<rect x="1815.37" y="1651.58" width="15.5" height="3.5" fill="#424242"/>
<text class="t" transform="translate(1784.97,1667.93) scale(1.2700,1)" font-size="24">2</text>
<text class="t" transform="translate(1784.59,1737.27) scale(1.2700,1)" font-size="24">0</text>
<text class="t" transform="translate(1805.94,1773.53) scale(1.2700,1)" font-size="24">5 0</text>
<rect x="1934.17" y="1722.67" width="5" height="12" fill="#424242"/>
<text class="t" transform="translate(1910.79,1773.53) scale(1.2700,1)" font-size="24">6 0</text>
<rect x="2039.17" y="1722.67" width="5" height="12" fill="#424242"/>
<text class="t" transform="translate(2015.75,1773.53) scale(1.2700,1)" font-size="24">7 0</text>
<rect x="2144.17" y="1722.67" width="5" height="12" fill="#424242"/>
<text class="t" transform="translate(2120.91,1773.53) scale(1.2700,1)" font-size="24">8 0</text>
<rect x="2249.83" y="1722.67" width="5" height="12" fill="#424242"/>
<text class="t" transform="translate(2226.5,1773.53) scale(1.2700,1)" font-size="24">9 0</text>
<rect x="2354.83" y="1722.67" width="5" height="12" fill="#424242"/>
<text class="t" transform="translate(2318.39,1773.53) scale(1.2700,1)" font-size="24">1 0 0</text>
<line x1="1907.67" y1="1596" x2="2274" y2="1681" stroke="#555" stroke-width="2"/>
<ellipse cx="1907.67" cy="1670" rx="7.0" ry="5.0"/>
<ellipse cx="2107.67" cy="1482.67" rx="7.0" ry="5.0"/>
<ellipse cx="2112.67" cy="1722.33" rx="7.0" ry="5.0"/>
<ellipse cx="2127.67" cy="1546.67" rx="7.0" ry="5.0"/>
<ellipse cx="2147.33" cy="1722.33" rx="7.0" ry="5.0"/>
<ellipse cx="2160" cy="1660.67" rx="7.0" ry="5.0"/>
<ellipse cx="2170" cy="1722.33" rx="7.0" ry="5.0"/>
<ellipse cx="2175" cy="1562" rx="7.0" ry="5.0"/>
<ellipse cx="2178.33" cy="1648.33" rx="7.0" ry="5.0"/>
<ellipse cx="2183.33" cy="1660.67" rx="7.0" ry="5.0"/>
<ellipse cx="2189.33" cy="1666" rx="7.0" ry="5.0"/>
<ellipse cx="2200" cy="1678.33" rx="7.0" ry="5.0"/>
<ellipse cx="2202.33" cy="1541.33" rx="7.0" ry="5.0"/>
<ellipse cx="2202.67" cy="1609.33" rx="7.0" ry="5.0"/>
<ellipse cx="2216" cy="1710" rx="7.0" ry="5.0"/>
<ellipse cx="2221.67" cy="1676" rx="7.0" ry="5.0"/>
<ellipse cx="2242.67" cy="1700" rx="7.0" ry="5.0"/>
<ellipse cx="2243.33" cy="1722.33" rx="7.0" ry="5.0"/>
<ellipse cx="2247.67" cy="1722.33" rx="7.0" ry="5.0"/>
<ellipse cx="2258.33" cy="1705" rx="7.0" ry="5.0"/>
<ellipse cx="2262.67" cy="1694" rx="7.0" ry="5.0"/>
<ellipse cx="2274" cy="1695.67" rx="7.0" ry="5.0"/>
<text class="s" transform="translate(1887.08,1466.67) scale(1.4605,1)" font-size="33">r = -0.328</text>
<text class="s" transform="translate(1873.05,1512.33) scale(1.4502,1)" font-size="33">P = 0.137</text>
<text class="s" transform="translate(2037.22,1821.67) scale(1.4019,1)" font-size="41.3">FoxP3<tspan font-size="26" dy="-13">-</tspan><tspan dy="13">Helios-</tspan></text>
</g>
<g id="D1">
<rect x="178.37" y="2055.72" width="5" height="288.62" fill="#424242"/>
<rect x="165.37" y="2331.58" width="545.47" height="3.5" fill="#424242"/>
<rect x="165.37" y="2054.92" width="15.5" height="3.5" fill="#424242"/>
<text class="t" transform="translate(109.14,2071.27) scale(1.2700,1)" font-size="24">1 0</text>
<rect x="165.37" y="2109.92" width="15.5" height="3.5" fill="#424242"/>
<text class="t" transform="translate(134.75,2126.27) scale(1.2700,1)" font-size="24">8</text>
<rect x="165.37" y="2164.92" width="15.5" height="3.5" fill="#424242"/>
<text class="t" transform="translate(134.75,2181.27) scale(1.2700,1)" font-size="24">6</text>
<rect x="165.37" y="2220.58" width="15.5" height="3.5" fill="#424242"/>
<text class="t" transform="translate(134.29,2236.93) scale(1.2700,1)" font-size="24">4</text>
<rect x="165.37" y="2275.92" width="15.5" height="3.5" fill="#424242"/>
<text class="t" transform="translate(134.97,2292.27) scale(1.2700,1)" font-size="24">2</text>
<text class="t" transform="translate(134.59,2347.93) scale(1.2700,1)" font-size="24">0</text>
<text class="t" transform="translate(155.91,2383.87) scale(1.2700,1)" font-size="24">8 0</text>
<rect x="354.83" y="2333.33" width="5" height="12" fill="#424242"/>
<text class="t" transform="translate(331.61,2383.87) scale(1.2700,1)" font-size="24">8 5</text>
<rect x="530.83" y="2333.33" width="5" height="12" fill="#424242"/>
<text class="t" transform="translate(507.5,2383.87) scale(1.2700,1)" font-size="24">9 0</text>
<rect x="705.83" y="2333.33" width="5" height="12" fill="#424242"/>
<text class="t" transform="translate(682.54,2383.87) scale(1.2700,1)" font-size="24">9 5</text>
<line x1="271" y1="2166.67" x2="676.67" y2="2260" stroke="#555" stroke-width="2"/>
<ellipse cx="271" cy="2204.33" rx="7.0" ry="5.0"/>
<ellipse cx="343.33" cy="2148" rx="7.0" ry="5.0"/>
<ellipse cx="404" cy="2169.33" rx="7.0" ry="5.0"/>
<ellipse cx="412.33" cy="2145.33" rx="7.0" ry="5.0"/>
<ellipse cx="401" cy="2300.33" rx="7.0" ry="5.0"/>
<ellipse cx="429" cy="2249.33" rx="7.0" ry="5.0"/>
<ellipse cx="432.33" cy="2265" rx="7.0" ry="5.0"/>
<ellipse cx="475" cy="2118.33" rx="7.0" ry="5.0"/>
<ellipse cx="496.67" cy="2278.67" rx="7.0" ry="5.0"/>
<ellipse cx="509.33" cy="2200" rx="7.0" ry="5.0"/>
<ellipse cx="518.33" cy="2115" rx="7.0" ry="5.0"/>
<ellipse cx="516.67" cy="2167.67" rx="7.0" ry="5.0"/>
<ellipse cx="540" cy="2203.33" rx="7.0" ry="5.0"/>
<ellipse cx="551.67" cy="2300" rx="7.0" ry="5.0"/>
<ellipse cx="556" cy="2158" rx="7.0" ry="5.0"/>
<ellipse cx="560" cy="2242.67" rx="7.0" ry="5.0"/>
<ellipse cx="568.33" cy="2236" rx="7.0" ry="5.0"/>
<ellipse cx="565" cy="2260.67" rx="7.0" ry="5.0"/>
<ellipse cx="595.67" cy="2203.33" rx="7.0" ry="5.0"/>
<ellipse cx="605" cy="2236.67" rx="7.0" ry="5.0"/>
<ellipse cx="601" cy="2264.33" rx="7.0" ry="5.0"/>
<ellipse cx="610" cy="2292.67" rx="7.0" ry="5.0"/>
<ellipse cx="636.67" cy="2295.33" rx="7.0" ry="5.0"/>
<ellipse cx="654" cy="2172.67" rx="7.0" ry="5.0"/>
<ellipse cx="669.33" cy="2221.67" rx="7.0" ry="5.0"/>
<ellipse cx="656" cy="2259.33" rx="7.0" ry="5.0"/>
<ellipse cx="664.33" cy="2267.33" rx="7.0" ry="5.0"/>
<ellipse cx="661.67" cy="2299.33" rx="7.0" ry="5.0"/>
<ellipse cx="661.67" cy="2304.33" rx="7.0" ry="5.0"/>
<ellipse cx="676.67" cy="2305.67" rx="7.0" ry="5.0"/>
<text class="s" transform="translate(219.42,2080) scale(1.4556,1)" font-size="33">r = -0.45</text>
<text class="s" transform="translate(206.37,2126) scale(1.4551,1)" font-size="33">P = 0.012</text>
<text class="s" transform="translate(400.56,2436) scale(1.4019,1)" font-size="41.3">FoxP3<tspan font-size="26" dy="-13">-</tspan><tspan dy="13">Helios-</tspan></text>
</g>
<g id="D2">
<rect x="1004.03" y="2055.72" width="5" height="288.62" fill="#424242"/>
<rect x="991.03" y="2331.58" width="544.8" height="3.5" fill="#424242"/>
<rect x="991.03" y="2054.92" width="15.5" height="3.5" fill="#424242"/>
<text class="t" transform="translate(909.43,2071.27) scale(1.2700,1)" font-size="24">1 5 0</text>
<rect x="991.03" y="2147.25" width="15.5" height="3.5" fill="#424242"/>
<text class="t" transform="translate(909.43,2163.6) scale(1.2700,1)" font-size="24">1 0 0</text>
<rect x="991.03" y="2239.25" width="15.5" height="3.5" fill="#424242"/>
<text class="t" transform="translate(934.81,2255.6) scale(1.2700,1)" font-size="24">5 0</text>
<text class="t" transform="translate(960.26,2347.93) scale(1.2700,1)" font-size="24">0</text>
<text class="t" transform="translate(994.34,2383.87) scale(1.2700,1)" font-size="24">0</text>
<rect x="1109.17" y="2333.33" width="5" height="12" fill="#424242"/>
<text class="t" transform="translate(1085.79,2383.87) scale(1.2700,1)" font-size="24">2 0</text>
<rect x="1214.17" y="2333.33" width="5" height="12" fill="#424242"/>
<text class="t" transform="translate(1191.21,2383.87) scale(1.2700,1)" font-size="24">4 0</text>
<rect x="1319.83" y="2333.33" width="5" height="12" fill="#424242"/>
<text class="t" transform="translate(1296.46,2383.87) scale(1.2700,1)" font-size="24">6 0</text>
<rect x="1425.17" y="2333.33" width="5" height="12" fill="#424242"/>
<text class="t" transform="translate(1401.91,2383.87) scale(1.2700,1)" font-size="24">8 0</text>
<rect x="1530.83" y="2333.33" width="5" height="12" fill="#424242"/>
<text class="t" transform="translate(1494.39,2383.87) scale(1.2700,1)" font-size="24">1 0 0</text>
<line x1="1174.33" y1="2142.33" x2="1466" y2="2297.33" stroke="#555" stroke-width="2"/>
<ellipse cx="1174.33" cy="2188.67" rx="7.0" ry="5.0"/>
<ellipse cx="1197.33" cy="2173.67" rx="7.0" ry="5.0"/>
<ellipse cx="1257.67" cy="2163" rx="7.0" ry="5.0"/>
<ellipse cx="1278.33" cy="2221.33" rx="7.0" ry="5.0"/>
<ellipse cx="1299.33" cy="2163.67" rx="7.0" ry="5.0"/>
<ellipse cx="1314.33" cy="2199" rx="7.0" ry="5.0"/>
<ellipse cx="1342.33" cy="2237.33" rx="7.0" ry="5.0"/>
<ellipse cx="1357.33" cy="2162.33" rx="7.0" ry="5.0"/>
<ellipse cx="1369.33" cy="2164.67" rx="7.0" ry="5.0"/>
<ellipse cx="1362.33" cy="2244.67" rx="7.0" ry="5.0"/>
<ellipse cx="1390.67" cy="2264.33" rx="7.0" ry="5.0"/>
<ellipse cx="1391.67" cy="2274.67" rx="7.0" ry="5.0"/>
<ellipse cx="1386" cy="2286.67" rx="7.0" ry="5.0"/>
<ellipse cx="1401.67" cy="2287.33" rx="7.0" ry="5.0"/>
<ellipse cx="1406.67" cy="2296" rx="7.0" ry="5.0"/>
<ellipse cx="1428.33" cy="2291.67" rx="7.0" ry="5.0"/>
<ellipse cx="1434" cy="2274.67" rx="7.0" ry="5.0"/>
<ellipse cx="1450.67" cy="2311.33" rx="7.0" ry="5.0"/>
<ellipse cx="1455.67" cy="2311.33" rx="7.0" ry="5.0"/>
<ellipse cx="1466" cy="2291.67" rx="7.0" ry="5.0"/>
<text class="s" transform="translate(1050.43,2265.67) scale(1.4510,1)" font-size="33">r = -0.847</text>
<text class="s" transform="translate(1033.1,2311.67) scale(1.4316,1)" font-size="33">P &lt;0.0001</text>
<text class="s" transform="translate(1205.56,2436) scale(1.4019,1)" font-size="41.3">FoxP3<tspan font-size="26" dy="-13">-</tspan><tspan dy="13">Helios-</tspan></text>
</g>
<g id="D3">
<rect x="1828.37" y="2055.72" width="5" height="288.62" fill="#424242"/>
<rect x="1815.37" y="2331.58" width="544.47" height="3.5" fill="#424242"/>
<rect x="1815.37" y="2054.92" width="15.5" height="3.5" fill="#424242"/>
<text class="t" transform="translate(1759.14,2071.27) scale(1.2700,1)" font-size="24">6 0</text>
<rect x="1815.37" y="2147.25" width="15.5" height="3.5" fill="#424242"/>
<text class="t" transform="translate(1759.14,2163.6) scale(1.2700,1)" font-size="24">4 0</text>
<rect x="1815.37" y="2239.25" width="15.5" height="3.5" fill="#424242"/>
<text class="t" transform="translate(1759.14,2255.6) scale(1.2700,1)" font-size="24">2 0</text>
<text class="t" transform="translate(1784.59,2347.93) scale(1.2700,1)" font-size="24">0</text>
<text class="t" transform="translate(1805.94,2383.87) scale(1.2700,1)" font-size="24">5 0</text>
<rect x="1934.17" y="2333.33" width="5" height="12" fill="#424242"/>
<text class="t" transform="translate(1910.79,2383.87) scale(1.2700,1)" font-size="24">6 0</text>
<rect x="2039.17" y="2333.33" width="5" height="12" fill="#424242"/>
<text class="t" transform="translate(2015.75,2383.87) scale(1.2700,1)" font-size="24">7 0</text>
<rect x="2144.17" y="2333.33" width="5" height="12" fill="#424242"/>
<text class="t" transform="translate(2120.91,2383.87) scale(1.2700,1)" font-size="24">8 0</text>
<rect x="2249.83" y="2333.33" width="5" height="12" fill="#424242"/>
<text class="t" transform="translate(2226.5,2383.87) scale(1.2700,1)" font-size="24">9 0</text>
<rect x="2354.83" y="2333.33" width="5" height="12" fill="#424242"/>
<text class="t" transform="translate(2318.39,2383.87) scale(1.2700,1)" font-size="24">1 0 0</text>
<line x1="1907.67" y1="2095" x2="2273.33" y2="2265" stroke="#555" stroke-width="2"/>
<ellipse cx="1907.67" cy="2138" rx="7.0" ry="5.0"/>
<ellipse cx="2107.67" cy="2133.33" rx="7.0" ry="5.0"/>
<ellipse cx="2112.67" cy="2167.33" rx="7.0" ry="5.0"/>
<ellipse cx="2147.33" cy="2161.33" rx="7.0" ry="5.0"/>
<ellipse cx="2160" cy="2252" rx="7.0" ry="5.0"/>
<ellipse cx="2170" cy="2242" rx="7.0" ry="5.0"/>
<ellipse cx="2175" cy="2112" rx="7.0" ry="5.0"/>
<ellipse cx="2178.33" cy="2201.33" rx="7.0" ry="5.0"/>
<ellipse cx="2184.33" cy="2252.67" rx="7.0" ry="5.0"/>
<ellipse cx="2200" cy="2250" rx="7.0" ry="5.0"/>
<ellipse cx="2202.67" cy="2239" rx="7.0" ry="5.0"/>
<ellipse cx="2215.67" cy="2277.67" rx="7.0" ry="5.0"/>
<ellipse cx="2221.67" cy="2229.67" rx="7.0" ry="5.0"/>
<ellipse cx="2243.33" cy="2273.33" rx="7.0" ry="5.0"/>
<ellipse cx="2241.67" cy="2279.33" rx="7.0" ry="5.0"/>
<ellipse cx="2247.67" cy="2259.33" rx="7.0" ry="5.0"/>
<ellipse cx="2262.67" cy="2305.33" rx="7.0" ry="5.0"/>
<ellipse cx="2273.33" cy="2226" rx="7.0" ry="5.0"/>
<text class="s" transform="translate(1872.09,2257.33) scale(1.4539,1)" font-size="33">r = -0.680</text>
<text class="s" transform="translate(1854.69,2304) scale(1.4624,1)" font-size="33">P = 0.002</text>
<text class="s" transform="translate(2012.89,2436) scale(1.4032,1)" font-size="41.3">FoxP3<tspan font-size="26" dy="-13">-</tspan><tspan dy="13">Helios-</tspan></text>
</g>
</g></svg>
</body></html>
